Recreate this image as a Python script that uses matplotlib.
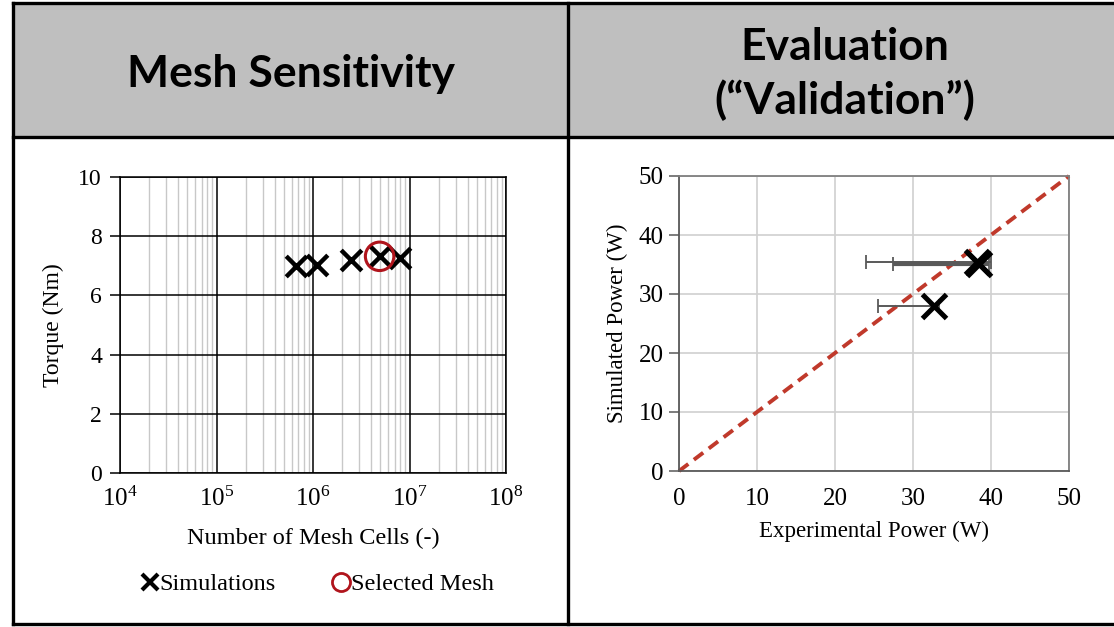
import numpy as np
from matplotlib import pyplot as plt
from matplotlib.patches import Rectangle
from matplotlib.lines import Line2D
from matplotlib.ticker import FuncFormatter, LogLocator, NullFormatter

# mesh sensitivity data
mesh_cells = [6.6e5, 1.1e6, 2.5e6, 4.9e6, 7.9e6]
torque = [7.0, 7.02, 7.2, 7.32, 7.28]
selected_cells = [4.9e6]
selected_torque = [7.32]

# validation data
exp_power = [38.2, 38.5, 32.7]
sim_power = [35.5, 35.1, 27.9]
err_low = [14.2, 11.1, 7.2]
err_high = [1.8, 1.2, 0.6]
err_width = [1.4, 3.0, 1.4]

headers = ['Mesh Sensitivity', 'Evaluation\n(\u201cValidation\u201d)']

W, H = 1114, 627
SERIF = 'Liberation Serif'
plt.rcParams['font.family'] = SERIF
plt.rcParams['mathtext.fontset'] = 'custom'
plt.rcParams['mathtext.rm'] = SERIF
plt.rcParams['mathtext.it'] = SERIF

fig = plt.figure(figsize=(W / 100, H / 100), dpi=100)


def px_axes(x0, y0, x1, y1):
    return fig.add_axes([x0 / W, 1 - y1 / H, (x1 - x0) / W, (y1 - y0) / H])


# table frame
fig.add_artist(Rectangle((13 / W, 1 - 137 / H), (W - 13) / W, 134 / H,
                         transform=fig.transFigure, facecolor='#bfbfbf', edgecolor='none', zorder=0))
for xs, ys in [((13, W), (3, 3)), ((13, W), (137, 137)), ((13, W), (624, 624)),
               ((13, 13), (3, 624)), ((568, 568), (3, 624))]:
    fig.add_artist(Line2D([x / W for x in xs], [1 - y / H for y in ys],
                          transform=fig.transFigure, color='black', lw=2.4, zorder=5))

fig.text(291 / W, 1 - 74 / H, headers[0], ha='center', va='center', fontsize=32,
         fontweight='bold', family='Lato')
fig.text(845 / W, 1 - 74 / H, headers[1], ha='center', va='center', fontsize=32,
         fontweight='bold', family='Lato', linespacing=1.38)

# left: mesh sensitivity
ax1 = px_axes(120, 177, 506, 473)
ax1.set_xscale('log')
ax1.set_xlim(1e4, 1e8)
ax1.set_ylim(0, 10)
ax1.set_yticks(np.arange(0, 11, 2))
ax1.xaxis.set_major_locator(LogLocator(base=10, numticks=10))
ax1.xaxis.set_minor_locator(LogLocator(base=10, subs=np.arange(2, 10), numticks=20))
ax1.xaxis.set_minor_formatter(NullFormatter())
ax1.xaxis.set_major_formatter(FuncFormatter(lambda v, p: r'$10^{%d}$' % round(np.log10(v))))
ax1.grid(which='minor', axis='x', color='#c8c8c8', lw=1.0)
ax1.grid(which='major', axis='both', color='black', lw=1.1)
ax1.tick_params(axis='x', which='both', length=0, pad=10, labelsize=18)
ax1.tick_params(axis='y', length=7, width=1.1, pad=6, labelsize=17, direction='out')
for s in ax1.spines.values():
    s.set_color('black')
    s.set_linewidth(1.1)
ax1.scatter(mesh_cells, torque, marker='x', s=220, color='black', linewidths=3.2, zorder=3)
ax1.scatter(selected_cells, selected_torque, marker='o', s=420, facecolors='none',
            edgecolors='#b0141c', linewidths=2.2, zorder=4)
ax1.set_xlabel('Number of Mesh Cells (-)', fontsize=17.5, labelpad=12)
ax1.set_ylabel('Torque (Nm)', fontsize=17, labelpad=10)

handles = [Line2D([], [], ls='none', marker='x', color='black', markersize=11, markeredgewidth=3),
           Line2D([], [], ls='none', marker='o', markerfacecolor='none', markeredgecolor='#b0141c',
                  markersize=13, markeredgewidth=2)]
fig.legend(handles, ['Simulations', 'Selected Mesh'], loc='center', ncol=2,
           bbox_to_anchor=(318 / W, 1 - 584 / H), frameon=False, fontsize=17.5,
           handlelength=0.6, handletextpad=0.1, columnspacing=2.4)

# right: validation
ax2 = px_axes(679, 176, 1069, 471)
ax2.set_xlim(0, 50)
ax2.set_ylim(0, 50)
ax2.set_xticks(np.arange(0, 51, 10))
ax2.set_yticks(np.arange(0, 51, 10))
ax2.grid(color='#d0d0d0', lw=1.2)
ax2.set_axisbelow(True)
ax2.tick_params(axis='x', length=0, pad=12, labelsize=18)
ax2.tick_params(axis='y', length=7, width=1.1, pad=4, labelsize=18, color='#595959')
for k, s in ax2.spines.items():
    s.set_color('#595959' if k in ('left', 'bottom') else '#7f7f7f')
    s.set_linewidth(1.3)
ax2.plot([0, 50], [0, 50], ls=(0, (3, 1.8)), color='#c0392b', lw=2.8, zorder=2, clip_on=False)
for x, y, lo, hi, w in zip(exp_power, sim_power, err_low, err_high, err_width):
    ax2.errorbar([x], [y], xerr=[[lo], [hi]], fmt='none', ecolor='#595959', elinewidth=w,
                 capsize=5, capthick=1.3, zorder=3)
ax2.scatter(exp_power, sim_power, marker='x', s=300, color='black', linewidths=3.6, zorder=4)
ax2.set_xlabel('Experimental Power (W)', fontsize=16.5, labelpad=8)
ax2.set_ylabel('Simulated Power (W)', fontsize=16.5, labelpad=8)

fig.savefig('out.png', dpi=100)
